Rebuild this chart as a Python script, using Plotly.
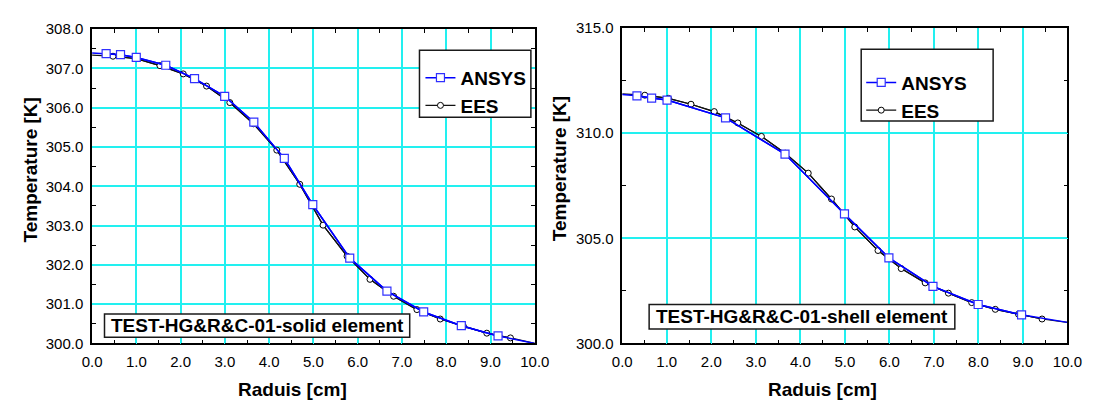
import plotly.graph_objects as go

W, H = 1100, 406
FONT = "Liberation Sans, Arial, sans-serif"
CYAN = "#22F0F0"

# ---------------- data: left panel (solid element) ----------------
solid_ansys_r = [0.317, 0.642, 0.998, 1.664, 2.314, 2.995, 3.653, 4.342, 4.985, 5.82, 6.66, 7.49, 8.34, 9.17]
solid_ansys_T = [307.375, 307.35, 307.28, 307.08, 306.74, 306.29, 305.63, 304.71, 303.53, 302.17, 301.33, 300.80, 300.45, 300.19]
solid_ansys_ends_r = [0.0, 10.0]
solid_ansys_ends_T = [307.39, 300.0]

solid_ees_r = [0.472, 0.999, 1.532, 2.059, 2.585, 3.111, 3.645, 4.172, 4.69, 5.217, 5.759, 6.277, 6.811, 7.337, 7.864, 8.39, 8.916, 9.45]
solid_ees_T = [307.31, 307.25, 307.07, 306.86, 306.55, 306.13, 305.59, 304.92, 304.05, 303.01, 302.22, 301.63, 301.20, 300.86, 300.62, 300.43, 300.26, 300.14]
solid_ees_ends_r = [0.0, 10.0]
solid_ees_ends_T = [307.34, 300.0]

# ---------------- data: right panel (shell element) ----------------
shell_ansys_r = [0.33, 0.66, 1.006, 2.32, 3.656, 4.992, 5.99, 6.98, 7.995, 8.97]
shell_ansys_T = [311.78, 311.67, 311.58, 310.73, 309.01, 306.16, 304.07, 302.71, 301.85, 301.36]
shell_ansys_ends_r = [0.0, 10.0]
shell_ansys_ends_T = [311.84, 301.0]

shell_ees_r = [0.507, 1.037, 1.544, 2.066, 2.596, 3.126, 3.66, 4.178, 4.70, 5.223, 5.745, 6.267, 6.805, 7.327, 7.85, 8.38, 8.9, 9.43]
shell_ees_T = [311.81, 311.66, 311.38, 311.03, 310.49, 309.85, 309.05, 308.10, 306.87, 305.54, 304.42, 303.56, 302.88, 302.39, 301.94, 301.62, 301.39, 301.16]
shell_ees_ends_r = [0.0, 10.0]
shell_ees_ends_T = [311.87, 301.0]

x_title = "Raduis [cm]"
y_title = "Temperature [K]"
panel_labels = ["TEST-HG&R&C-01-solid element", "TEST-HG&R&C-01-shell element"]


def px(x):
    return x / W


def py(y):
    return 1 - y / H


def full(ends_r, ends_T, r, T):
    return [ends_r[0]] + r + [ends_r[1]], [ends_T[0]] + T + [ends_T[1]]


fig = go.Figure()

panels = [
    dict(xa="x", ya="y", legend="legend",
         ansys=(solid_ansys_r, solid_ansys_T, solid_ansys_ends_r, solid_ansys_ends_T),
         ees=(solid_ees_r, solid_ees_T, solid_ees_ends_r, solid_ees_ends_T)),
    dict(xa="x2", ya="y2", legend="legend2",
         ansys=(shell_ansys_r, shell_ansys_T, shell_ansys_ends_r, shell_ansys_ends_T),
         ees=(shell_ees_r, shell_ees_T, shell_ees_ends_r, shell_ees_ends_T)),
]

styles = {
    "EES": dict(line=dict(color="#111111", width=1.2),
                marker=dict(symbol="circle", size=6, color="white",
                            line=dict(color="black", width=1))),
    "ANSYS": dict(line=dict(color="#0000FF", width=1.5),
                  marker=dict(symbol="square", size=8, color="white",
                              line=dict(color="#3030FF", width=1.2))),
}

for p in panels:
    for name, key in [("EES", "ees"), ("ANSYS", "ansys")]:
        r, T, er, eT = p[key]
        fr, fT = full(er, eT, r, T)
        st = styles[name]
        fig.add_trace(go.Scatter(x=fr, y=fT, mode="lines", line=st["line"],
                                 xaxis=p["xa"], yaxis=p["ya"], showlegend=False,
                                 hoverinfo="skip"))
        fig.add_trace(go.Scatter(x=r, y=T, mode="lines+markers", name=name,
                                 line=st["line"], marker=st["marker"],
                                 xaxis=p["xa"], yaxis=p["ya"], legend=p["legend"],
                                 legendrank=1 if name == "ANSYS" else 2))

tickfont = dict(family=FONT, size=15, color="black")


def xaxis_cfg(domain, anchor):
    return dict(domain=domain, anchor=anchor, range=[0, 10], tick0=0, dtick=1,
                tickformat=".1f", showgrid=True, gridcolor=CYAN, gridwidth=1.5,
                ticks="inside", ticklen=4, tickcolor=CYAN, showline=True,
                linecolor="black", linewidth=1.5, mirror="allticks", zeroline=False,
                ticklabelstandoff=4,
                minor=dict(dtick=0.5, tick0=0, ticks="inside", ticklen=4,
                           tickcolor="black", showgrid=False),
                tickfont=tickfont)


def yaxis_cfg(domain, anchor, rng, dt):
    return dict(domain=domain, anchor=anchor, range=rng, tick0=rng[0], dtick=dt,
                tickformat=".1f", showgrid=True, gridcolor=CYAN, gridwidth=1.5,
                ticks="inside", ticklen=4, tickcolor=CYAN, showline=True,
                linecolor="black", linewidth=1.5, mirror="allticks", zeroline=False,
                ticklabelstandoff=4,
                minor=dict(dtick=dt / 2, tick0=rng[0], ticks="inside", ticklen=4,
                           tickcolor="black", showgrid=False),
                tickfont=tickfont)


legend_font = dict(family=FONT, size=19, color="black", weight="bold")

fig.update_layout(
    width=W, height=H, margin=dict(l=0, r=0, t=0, b=0),
    paper_bgcolor="white", plot_bgcolor="white",
    xaxis=xaxis_cfg([px(84), px(537)], "y"),
    yaxis=yaxis_cfg([py(349), py(21)], "x", [300, 308], 1),
    xaxis2=xaxis_cfg([px(626.5), px(1082)], "y2"),
    yaxis2=yaxis_cfg([py(349), py(20)], "x2", [300, 315], 5),
    legend=dict(x=px(420), y=py(52), xanchor="left", yanchor="top",
                bgcolor="rgba(0,0,0,0)", borderwidth=0, font=legend_font,
                tracegroupgap=0, itemclick=False),
    legend2=dict(x=px(871), y=py(57), xanchor="left", yanchor="top",
                 bgcolor="rgba(0,0,0,0)", borderwidth=0, font=legend_font,
                 tracegroupgap=0, itemclick=False),
    showlegend=True,
)

# legend frames and label frames
boxes = [(419, 43, 533, 113), (871, 42, 1006, 117),
         (96.7, 318.3, 409, 342.7), (654, 308.3, 966.8, 334)]
for (x0, y0, x1, y1) in boxes:
    fig.add_shape(type="rect", xref="paper", yref="paper",
                  x0=px(x0), x1=px(x1), y0=py(y1), y1=py(y0),
                  line=dict(color="#1a1a1a", width=1.5), fillcolor="white",
                  layer="above")

title_font = dict(family=FONT, size=19, color="black", weight="bold")
annos = [
    dict(text=panel_labels[0], x=px(253), y=py(330.5)),
    dict(text=panel_labels[1], x=px(810), y=py(321.2)),
    dict(text=x_title, x=px(289), y=py(397)),
    dict(text=x_title, x=px(831), y=py(397)),
    dict(text=y_title, x=px(21), y=py(168), textangle=-90),
    dict(text=y_title, x=px(562), y=py(167), textangle=-90),
]
for a in annos:
    fig.add_annotation(xref="paper", yref="paper", showarrow=False,
                       xanchor="center", yanchor="middle", font=title_font, **a)

fig.write_html("out.html")
